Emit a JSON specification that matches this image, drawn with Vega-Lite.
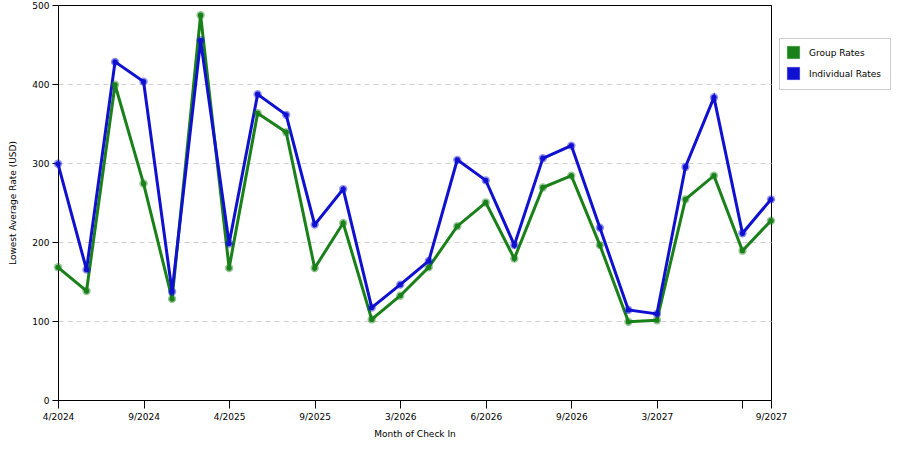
{
  "$schema": "https://vega.github.io/schema/vega-lite/v6.json",
  "width": 713,
  "height": 395,
  "autosize": {"type": "none"},
  "padding": {"left": 58, "top": 5, "right": 129, "bottom": 50},
  "background": "white",
  "config": {
    "font": "DejaVu Sans",
    "view": {"stroke": "#000000", "strokeWidth": 1},
    "axis": {
      "labelFontSize": 9,
      "titleFontSize": 9,
      "titleFontWeight": "normal",
      "labelColor": "#000000",
      "titleColor": "#000000",
      "domainColor": "#000000",
      "tickColor": "#000000"
    }
  },
  "data": {
    "values": [
      {"i": 0, "series": "Group Rates", "rate": 168},
      {"i": 1, "series": "Group Rates", "rate": 138},
      {"i": 2, "series": "Group Rates", "rate": 399},
      {"i": 3, "series": "Group Rates", "rate": 274},
      {"i": 4, "series": "Group Rates", "rate": 128},
      {"i": 5, "series": "Group Rates", "rate": 487},
      {"i": 6, "series": "Group Rates", "rate": 167},
      {"i": 7, "series": "Group Rates", "rate": 363},
      {"i": 8, "series": "Group Rates", "rate": 339},
      {"i": 9, "series": "Group Rates", "rate": 167},
      {"i": 10, "series": "Group Rates", "rate": 224},
      {"i": 11, "series": "Group Rates", "rate": 102},
      {"i": 12, "series": "Group Rates", "rate": 132},
      {"i": 13, "series": "Group Rates", "rate": 168},
      {"i": 14, "series": "Group Rates", "rate": 220},
      {"i": 15, "series": "Group Rates", "rate": 250},
      {"i": 16, "series": "Group Rates", "rate": 179},
      {"i": 17, "series": "Group Rates", "rate": 269},
      {"i": 18, "series": "Group Rates", "rate": 284},
      {"i": 19, "series": "Group Rates", "rate": 196},
      {"i": 20, "series": "Group Rates", "rate": 99},
      {"i": 21, "series": "Group Rates", "rate": 101},
      {"i": 22, "series": "Group Rates", "rate": 254},
      {"i": 23, "series": "Group Rates", "rate": 284},
      {"i": 24, "series": "Group Rates", "rate": 189},
      {"i": 25, "series": "Group Rates", "rate": 227},
      {"i": 0, "series": "Individual Rates", "rate": 299},
      {"i": 1, "series": "Individual Rates", "rate": 165},
      {"i": 2, "series": "Individual Rates", "rate": 428},
      {"i": 3, "series": "Individual Rates", "rate": 403},
      {"i": 4, "series": "Individual Rates", "rate": 137},
      {"i": 5, "series": "Individual Rates", "rate": 455},
      {"i": 6, "series": "Individual Rates", "rate": 198},
      {"i": 7, "series": "Individual Rates", "rate": 387},
      {"i": 8, "series": "Individual Rates", "rate": 361},
      {"i": 9, "series": "Individual Rates", "rate": 222},
      {"i": 10, "series": "Individual Rates", "rate": 267},
      {"i": 11, "series": "Individual Rates", "rate": 117},
      {"i": 12, "series": "Individual Rates", "rate": 146},
      {"i": 13, "series": "Individual Rates", "rate": 176},
      {"i": 14, "series": "Individual Rates", "rate": 304},
      {"i": 15, "series": "Individual Rates", "rate": 278},
      {"i": 16, "series": "Individual Rates", "rate": 196},
      {"i": 17, "series": "Individual Rates", "rate": 306},
      {"i": 18, "series": "Individual Rates", "rate": 322},
      {"i": 19, "series": "Individual Rates", "rate": 218},
      {"i": 20, "series": "Individual Rates", "rate": 114},
      {"i": 21, "series": "Individual Rates", "rate": 109},
      {"i": 22, "series": "Individual Rates", "rate": 295},
      {"i": 23, "series": "Individual Rates", "rate": 383},
      {"i": 24, "series": "Individual Rates", "rate": 211},
      {"i": 25, "series": "Individual Rates", "rate": 254}
    ]
  },
  "encoding": {
    "x": {
      "field": "i",
      "type": "quantitative",
      "scale": {"domain": [0, 25], "nice": false, "zero": false},
      "axis": {
        "title": "Month of Check In",
        "values": [0, 3, 6, 9, 12, 15, 18, 21, 24, 25],
        "labelExpr": "datum.value == 0 ? '4/2024' : datum.value == 3 ? '9/2024' : datum.value == 6 ? '4/2025' : datum.value == 9 ? '9/2025' : datum.value == 12 ? '3/2026' : datum.value == 15 ? '6/2026' : datum.value == 18 ? '9/2026' : datum.value == 21 ? '3/2027' : datum.value == 25 ? '9/2027' : ''",
        "labelFlush": false,
        "labelOverlap": false,
        "grid": false,
        "tickSize": 8,
        "labelPadding": 4,
        "titlePadding": 8
      }
    },
    "y": {
      "field": "rate",
      "type": "quantitative",
      "scale": {"domain": [0, 500], "nice": false},
      "axis": {
        "title": "Lowest Average Rate (USD)",
        "values": [0, 100, 200, 300, 400, 500],
        "grid": true,
        "gridColor": {"condition": {"test": "datum.value == 500", "value": "#000000"}, "value": "#d0d0d0"},
        "gridDash": {"condition": {"test": "datum.value == 500", "value": [1, 0]}, "value": [5, 4]},
        "tickSize": 6,
        "labelPadding": 3,
        "titlePadding": 14
      }
    },
    "color": {
      "field": "series",
      "type": "nominal",
      "scale": {"domain": ["Group Rates", "Individual Rates"], "range": ["#1a801a", "#1010d0"]},
      "legend": {
        "title": null,
        "orient": "none",
        "legendX": 721,
        "legendY": 33,
        "symbolType": "square",
        "symbolSize": 150,
        "symbolOpacity": 1,
        "symbolStrokeColor": "#333333",
        "symbolStrokeWidth": 0.5,
        "labelFontSize": 9,
        "labelColor": "#000000",
        "labelOffset": 9,
        "rowPadding": 6,
        "padding": 8,
        "strokeColor": "#cccccc",
        "fillColor": "#ffffff"
      }
    }
  },
  "layer": [
    {
      "mark": {"type": "line", "strokeWidth": 3}
    },
    {
      "mark": {"type": "point", "filled": true, "size": 70, "opacity": 0.45}
    },
    {
      "mark": {"type": "point", "filled": true, "size": 28, "opacity": 1}
    }
  ]
}
